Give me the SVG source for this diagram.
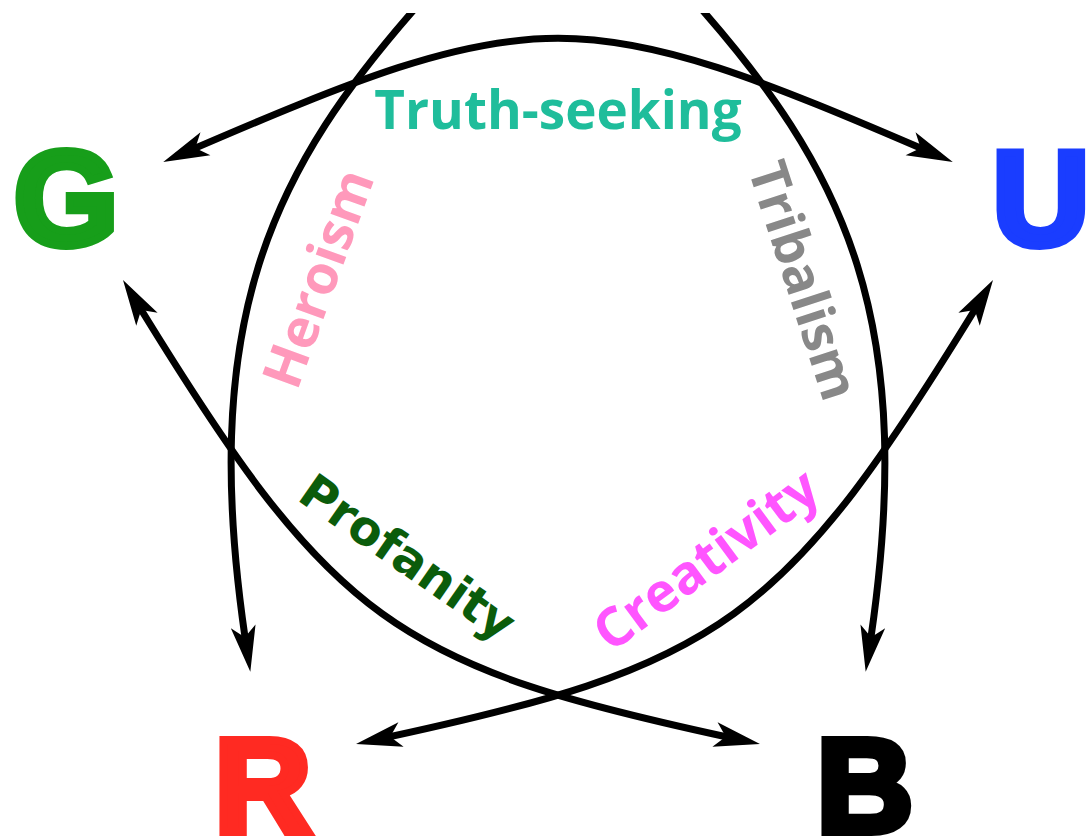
<svg xmlns="http://www.w3.org/2000/svg" width="1088" height="838" viewBox="0 0 1088 838">
<style>
.arc{fill:none;stroke:#000;stroke-width:7;marker-start:url(#ah);marker-end:url(#ah)}
.lbl{font-family:"Open Sans","Noto Sans",sans-serif;font-weight:700;text-anchor:middle}
.big{font-family:"Liberation Sans",Arial,sans-serif;font-weight:900;font-size:134px;text-anchor:middle;stroke-width:8;stroke-linejoin:miter}
</style>
<defs>
<marker id="ah" markerUnits="userSpaceOnUse" viewBox="-35 -14 52 28" refX="0" refY="0" markerWidth="52" markerHeight="28" orient="auto-start-reverse" overflow="visible">
<path d="M15,0 L-31,-12.5 L-20,0 L-31,12.5 Z" fill="#000"/>
</marker>
<clipPath id="clip"><rect x="0" y="13" width="1088" height="825"/></clipPath>
</defs>
<rect width="1088" height="838" fill="#fff"/>
<g id="connectors" clip-path="url(#clip)">
<path id="arc-G-U" class="arc" d="M177,156 C540,-1 576,-1 939,156"/>
<path id="arc-W-R" class="arc" style="marker-start:none" d="M427,-5 C270,170 195,320 248,657"/>
<path id="arc-W-B" class="arc" style="marker-start:none" d="M689,-5 C846,170 921,320 868,657"/>
<path id="arc-G-B" class="arc" d="M130.8,292.8 C333.6,625.9 393.2,666 745.3,740.9"/>
<path id="arc-U-R" class="arc" d="M985.2,292.8 C782.4,625.9 722.8,666 370.7,740.9"/>
</g>
<g id="labels">
<text class="lbl" x="558" y="129" font-size="53" fill="#1fbd9b">Truth-seeking</text>
<text class="lbl" transform="translate(320,279) rotate(-70)" x="0" y="17" font-size="54" fill="#ff99bb">Heroism</text>
<text class="lbl" transform="translate(802,281) rotate(72)" x="0" y="17" font-size="53" fill="#888888">Tribalism</text>
<text transform="translate(408,557) rotate(35)" x="0" y="17" font-family="DejaVu Sans, sans-serif" font-weight="700" font-size="48" text-anchor="middle" fill="#0b5c0b">Profanity</text>
<text class="lbl" transform="translate(707,561) rotate(-36.5)" x="0" y="17" font-size="54" fill="#ff55ff">Creativity</text>
</g>
<g id="node-G"><text class="big" x="66" y="245" fill="#179e1a" stroke="#179e1a">G</text></g>
<g id="node-U"><text class="big" x="1041" y="245" fill="#1a3dff" stroke="#1a3dff">U</text></g>
<g id="node-R"><text class="big" x="263" y="832" fill="#ff2a22" stroke="#ff2a22">R</text></g>
<g id="node-B"><text class="big" x="865" y="832" fill="#000" stroke="#000">B</text></g>
</svg>
